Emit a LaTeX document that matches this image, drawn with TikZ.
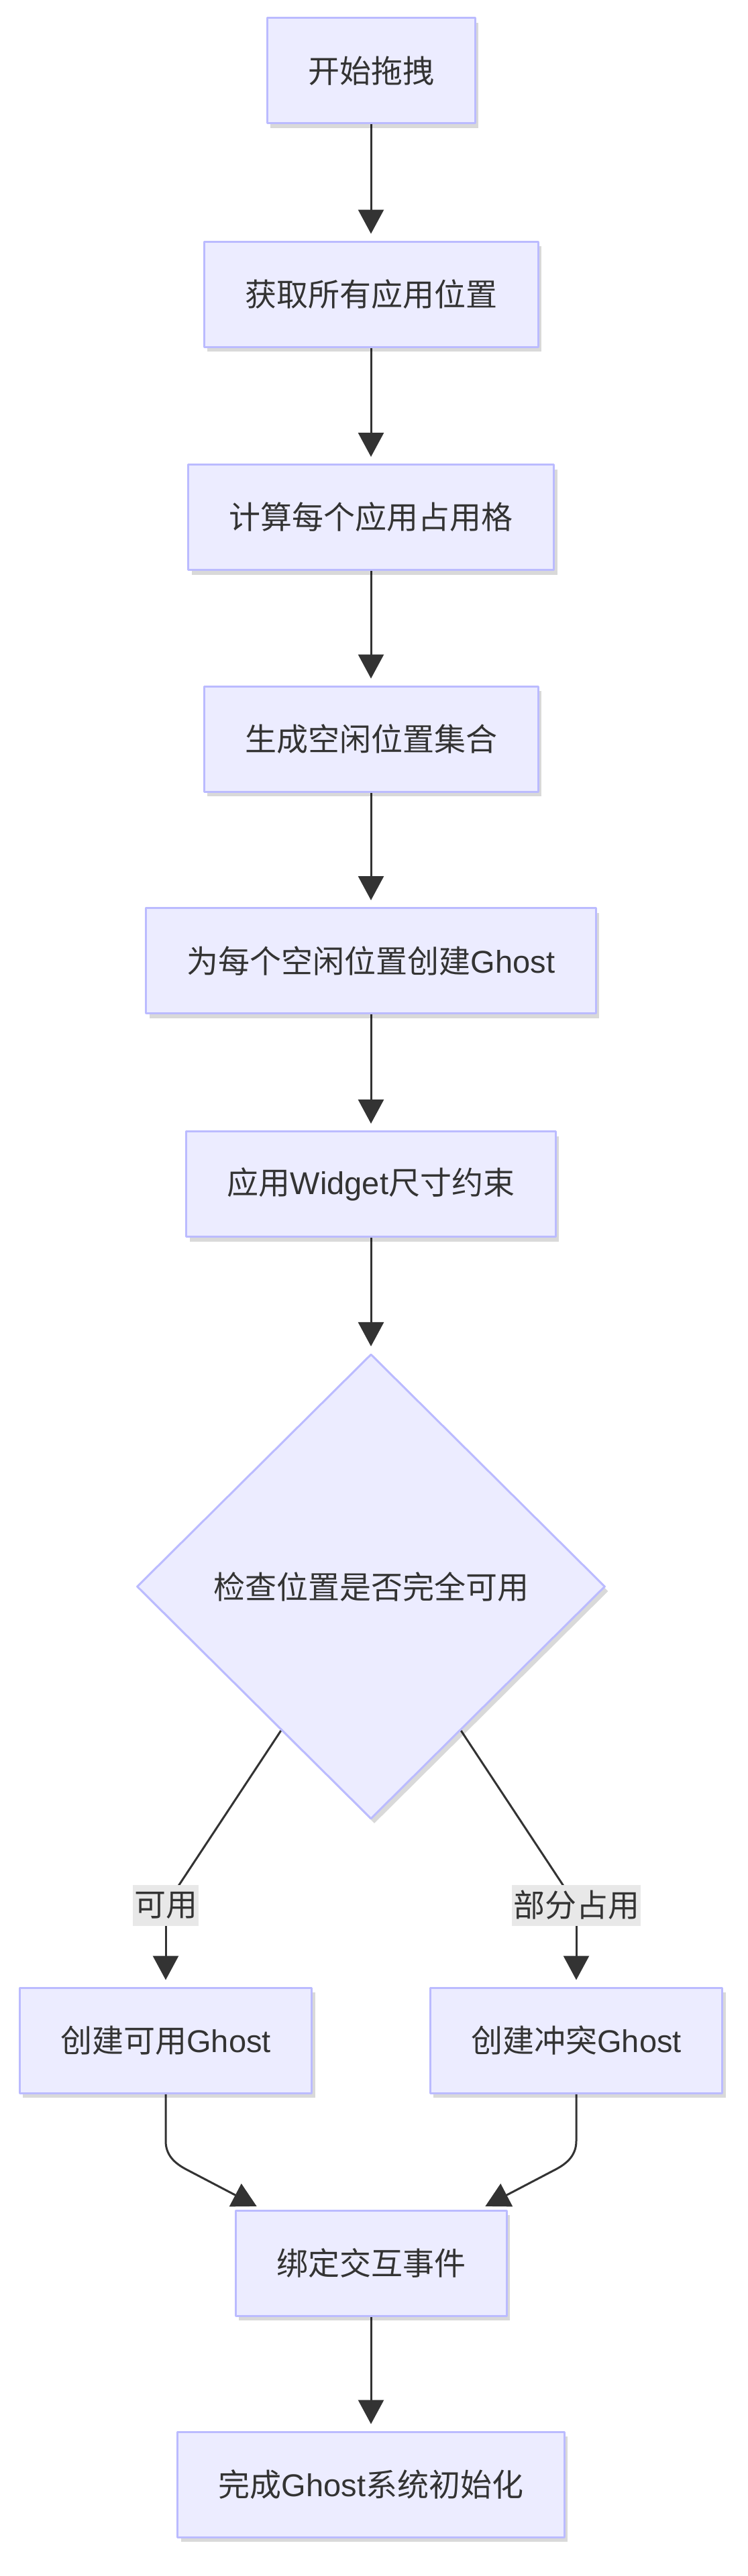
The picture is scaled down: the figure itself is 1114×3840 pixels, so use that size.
\documentclass[tikz,border=0pt]{standalone}
\usepackage{fontspec}
\setmainfont{Liberation Sans}
\newfontfamily\cjk{Noto Sans CJK SC}
\usetikzlibrary{arrows.meta,shapes.geometric,shadows,backgrounds,calc}
\definecolor{boxfill}{HTML}{ECECFF}
\definecolor{boxline}{HTML}{BBBBFF}
\definecolor{wire}{HTML}{333333}
\definecolor{tagfill}{HTML}{E8E8E8}
\newcommand\eng[1]{{\rmfamily #1}}
\tikzset{
  softshadow/.style={drop shadow={shadow xshift=5pt, shadow yshift=-7pt, opacity=0.15, fill=black}},
  stepbox/.style={rectangle, draw=boxline, fill=boxfill, line width=3pt, minimum height=157pt, inner xsep=61pt, inner ysep=0pt, softshadow},
  checkbox/.style={diamond, draw=boxline, fill=boxfill, line width=3pt, minimum width=698pt, minimum height=693pt, inner sep=0pt, softshadow},
  tag/.style={fill=tagfill, inner xsep=2pt, inner ysep=0pt, minimum height=61pt},
  wireline/.style={draw=wire, line width=3pt},
  flow/.style={wireline, -{Triangle[length=36pt,width=38pt]}, shorten >=10pt}
}
\begin{document}
\begin{tikzpicture}[x=1pt, y=1pt, line join=round, every node/.style={text=wire, font=\cjk\fontsize{47}{56}\selectfont}]
  \useasboundingbox (0,0) rectangle (1114,-3840);
  % main column
  \node[stepbox] (start) at (553,-105.5) {开始拖拽};
  \node[stepbox] (fetch) at (553,-438.5) {获取所有应用位置};
  \node[stepbox] (cells) at (553,-771) {计算每个应用占用格};
  \node[stepbox] (free) at (553,-1101.5) {生成空闲位置集合};
  \node[stepbox] (make) at (553,-1432) {为每个空闲位置创建\eng{Ghost}};
  \node[stepbox] (size) at (553,-1765) {应用\eng{Widget}尺寸约束};
  % decision
  \node[checkbox] (chk) at (553,-2365) {检查位置是否完全可用};
  % branches
  \node[stepbox] (ghostA) at (247,-3041.5) {创建可用\eng{Ghost}};
  \node[stepbox] (ghostB) at (859,-3041.5) {创建冲突\eng{Ghost}};
  \node[tag] (yes) at (247,-2840) {可用};
  \node[tag] (part) at (859,-2840) {部分占用};
  % merge
  \node[stepbox] (bind) at (553,-3373.5) {绑定交互事件};
  \node[stepbox] (done) at (553,-3703.5) {完成\eng{Ghost}系统初始化};
  \coordinate (bindL) at ($(bind.north west)+(42,0)$);
  \coordinate (bindR) at ($(bind.north east)+(-42,0)$);

  \begin{scope}[on background layer]
    \draw[flow] (start) -- (fetch);
    \draw[flow] (fetch) -- (cells);
    \draw[flow] (cells) -- (free);
    \draw[flow] (free) -- (make);
    \draw[flow] (make) -- (size);
    \draw[flow] (size) -- (chk);
    % branches
    \draw[wireline] (chk.238) -- (yes.center);
    \draw[flow] (yes.center) -- (ghostA.north);
    \draw[wireline] (chk.302) -- (part.center);
    \draw[flow] (part.center) -- (ghostB.north);
    % merge
    \draw[flow] (ghostA.south) -- ++(0,-70) to[out=-90,in=152] ++(30,-42) -- (bindL);
    \draw[flow] (ghostB.south) -- ++(0,-70) to[out=-90,in=28] ++(-30,-42) -- (bindR);
    \draw[flow] (bind) -- (done);
  \end{scope}
\end{tikzpicture}
\end{document}
